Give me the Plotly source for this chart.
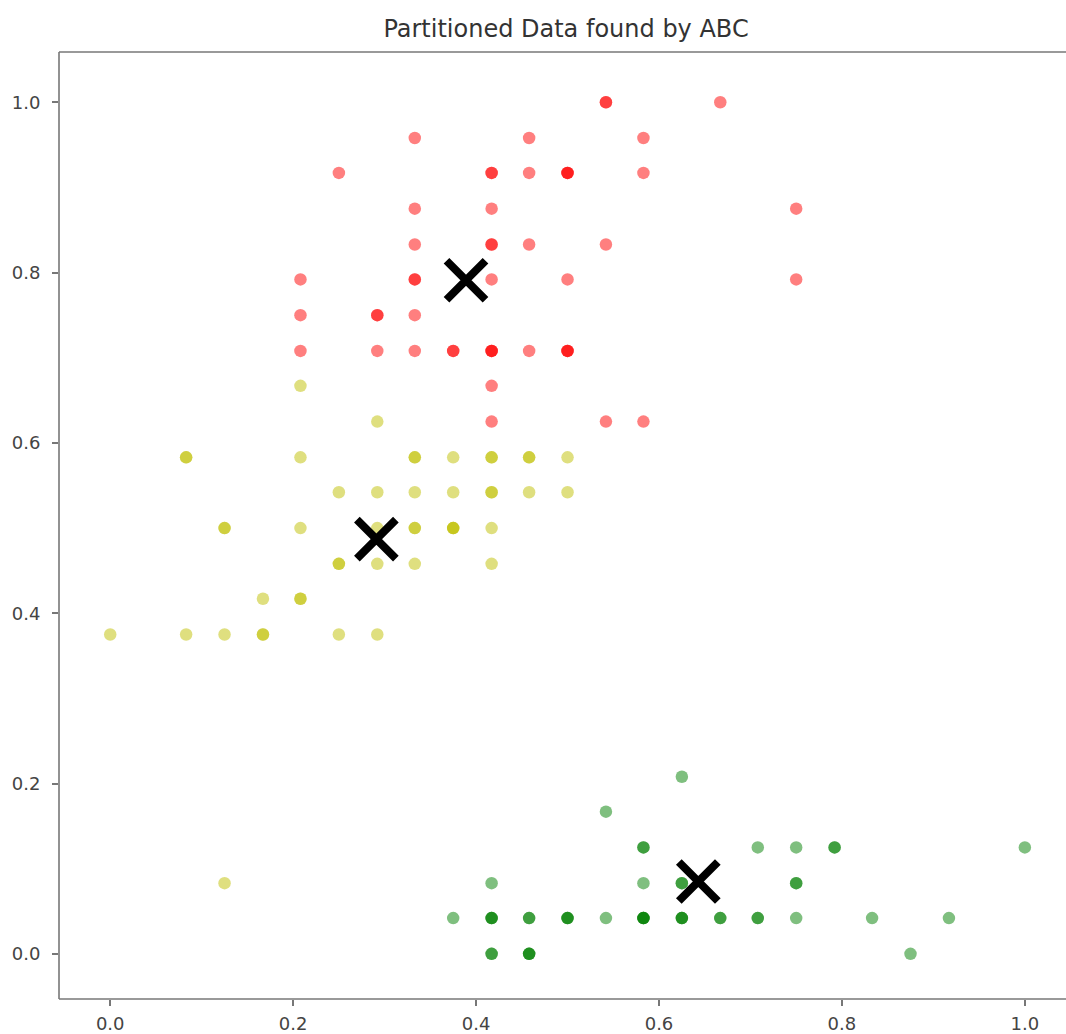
import plotly.graph_objects as go

# ---- data (normalised values, counts = number of overlapping points) ----
red_x = [0.333, 0.458, 0.250, 0.417, 0.458, 0.333, 0.417, 0.333, 0.417, 0.458,
         0.208, 0.333, 0.417, 0.208, 0.292, 0.333, 0.208, 0.292, 0.333, 0.375,
         0.417, 0.458, 0.542, 0.667, 0.583, 0.500, 0.583, 0.750, 0.542, 0.500,
         0.750, 0.500, 0.417, 0.417, 0.542, 0.583]
red_y = [0.958, 0.958, 0.917, 0.917, 0.917, 0.875, 0.875, 0.833, 0.833, 0.833,
         0.792, 0.792, 0.792, 0.750, 0.750, 0.750, 0.708, 0.708, 0.708, 0.708,
         0.708, 0.708, 1.000, 1.000, 0.958, 0.917, 0.917, 0.875, 0.833, 0.792,
         0.792, 0.708, 0.667, 0.625, 0.625, 0.625]
red_n = [1, 1, 1, 2, 1, 1, 1, 1, 2, 1,
         1, 2, 1, 1, 2, 1, 1, 1, 1, 2,
         3, 1, 2, 1, 1, 3, 1, 1, 1, 1,
         1, 3, 1, 1, 1, 1]

yel_x = [0.208, 0.292, 0.083, 0.208, 0.333, 0.375, 0.417, 0.458, 0.500,
         0.250, 0.292, 0.333, 0.375, 0.417, 0.458, 0.500,
         0.125, 0.208, 0.292, 0.333, 0.375, 0.417,
         0.250, 0.292, 0.333, 0.417,
         0.167, 0.208,
         0.000, 0.083, 0.125, 0.167, 0.250, 0.292,
         0.125]
yel_y = [0.667, 0.625, 0.583, 0.583, 0.583, 0.583, 0.583, 0.583, 0.583,
         0.542, 0.542, 0.542, 0.542, 0.542, 0.542, 0.542,
         0.500, 0.500, 0.500, 0.500, 0.500, 0.500,
         0.458, 0.458, 0.458, 0.458,
         0.417, 0.417,
         0.375, 0.375, 0.375, 0.375, 0.375, 0.375,
         0.083]
yel_n = [1, 1, 2, 1, 2, 1, 2, 2, 1,
         1, 1, 1, 1, 2, 1, 1,
         2, 1, 1, 2, 3, 1,
         2, 1, 1, 1,
         1, 2,
         1, 1, 1, 2, 1, 1,
         1]

grn_x = [0.417, 0.375, 0.417, 0.458, 0.417, 0.458,
         0.625, 0.542, 0.583, 0.708, 0.750, 0.792, 1.000,
         0.583, 0.625, 0.750,
         0.500, 0.542, 0.583, 0.625, 0.667, 0.708, 0.750, 0.833, 0.917,
         0.875]
grn_y = [0.083, 0.042, 0.042, 0.042, 0.000, 0.000,
         0.208, 0.167, 0.125, 0.125, 0.125, 0.125, 0.125,
         0.083, 0.083, 0.083,
         0.042, 0.042, 0.042, 0.042, 0.042, 0.042, 0.042, 0.042, 0.042,
         0.000]
grn_n = [1, 1, 3, 2, 2, 3,
         1, 1, 2, 1, 1, 2, 1,
         1, 2, 2,
         3, 1, 4, 3, 2, 2, 1, 1, 1,
         1]

cent_x = [0.389, 0.291, 0.643]
cent_y = [0.791, 0.487, 0.085]

x_ticks = [0.0, 0.2, 0.4, 0.6, 0.8, 1.0]
y_ticks = [0.0, 0.2, 0.4, 0.6, 0.8, 1.0]
title_text = "Partitioned Data found by ABC"


def expand(xs, ys, ns):
    ex, ey = [], []
    for x, y, n in zip(xs, ys, ns):
        for _ in range(n):
            ex.append(x)
            ey.append(y)
    return ex, ey


fig = go.Figure()
for xs, ys, ns, col in [
    (red_x, red_y, red_n, "rgba(255,0,0,0.5)"),
    (yel_x, yel_y, yel_n, "rgba(191,191,0,0.5)"),
    (grn_x, grn_y, grn_n, "rgba(0,128,0,0.5)"),
]:
    ex, ey = expand(xs, ys, ns)
    fig.add_trace(go.Scatter(
        x=ex, y=ey, mode="markers",
        marker=dict(size=12.5, color=col, line=dict(width=0)),
        showlegend=False, hoverinfo="skip"))

fig.add_trace(go.Scatter(
    x=cent_x, y=cent_y, mode="markers",
    marker=dict(symbol="x-thin", size=39, line=dict(width=8, color="black"), color="black"),
    showlegend=False, hoverinfo="skip"))

frame = dict(color="#777777", width=1.6)
for x0, y0, x1, y1 in [(0, 0, 0, 1), (0, 0, 1.05, 0), (0, 1, 1.05, 1)]:
    fig.add_shape(type="line", xref="paper", yref="paper",
                  x0=x0, y0=y0, x1=x1, y1=y1, line=frame, layer="above")

axis_font = dict(family="DejaVu Sans", size=18, color="#444444")
fig.update_layout(
    width=1066, height=1034,
    margin=dict(l=59, r=0, t=52, b=35),
    paper_bgcolor="white", plot_bgcolor="white",
    title=dict(text=title_text, x=0.5035, xref="paper", xanchor="center",
               y=1 - 29 / 1034, yref="container", yanchor="middle",
               font=dict(family="DejaVu Sans", size=24, color="#333333")),
    xaxis=dict(range=[-0.056, 1.045], tickvals=x_ticks,
               ticktext=[f"{v:.1f}" for v in x_ticks],
               showgrid=False, zeroline=False, showline=False,
               ticks="outside", ticklen=6, tickwidth=1.6,
               tickcolor="#777777", tickfont=axis_font, ticklabelstandoff=2),
    yaxis=dict(range=[-0.053, 1.059], tickvals=y_ticks,
               ticktext=[f"{v:.1f}" for v in y_ticks],
               showgrid=False, zeroline=False, showline=False,
               ticks="outside", ticklen=6, tickwidth=1.6,
               tickcolor="#777777", tickfont=axis_font, ticklabelstandoff=8),
)

fig.write_html(
    "out.html",
    config={"displayModeBar": False},
    post_script="document.body.style.margin='0';document.body.style.overflow='hidden';"
                "document.documentElement.style.overflow='hidden';",
)
